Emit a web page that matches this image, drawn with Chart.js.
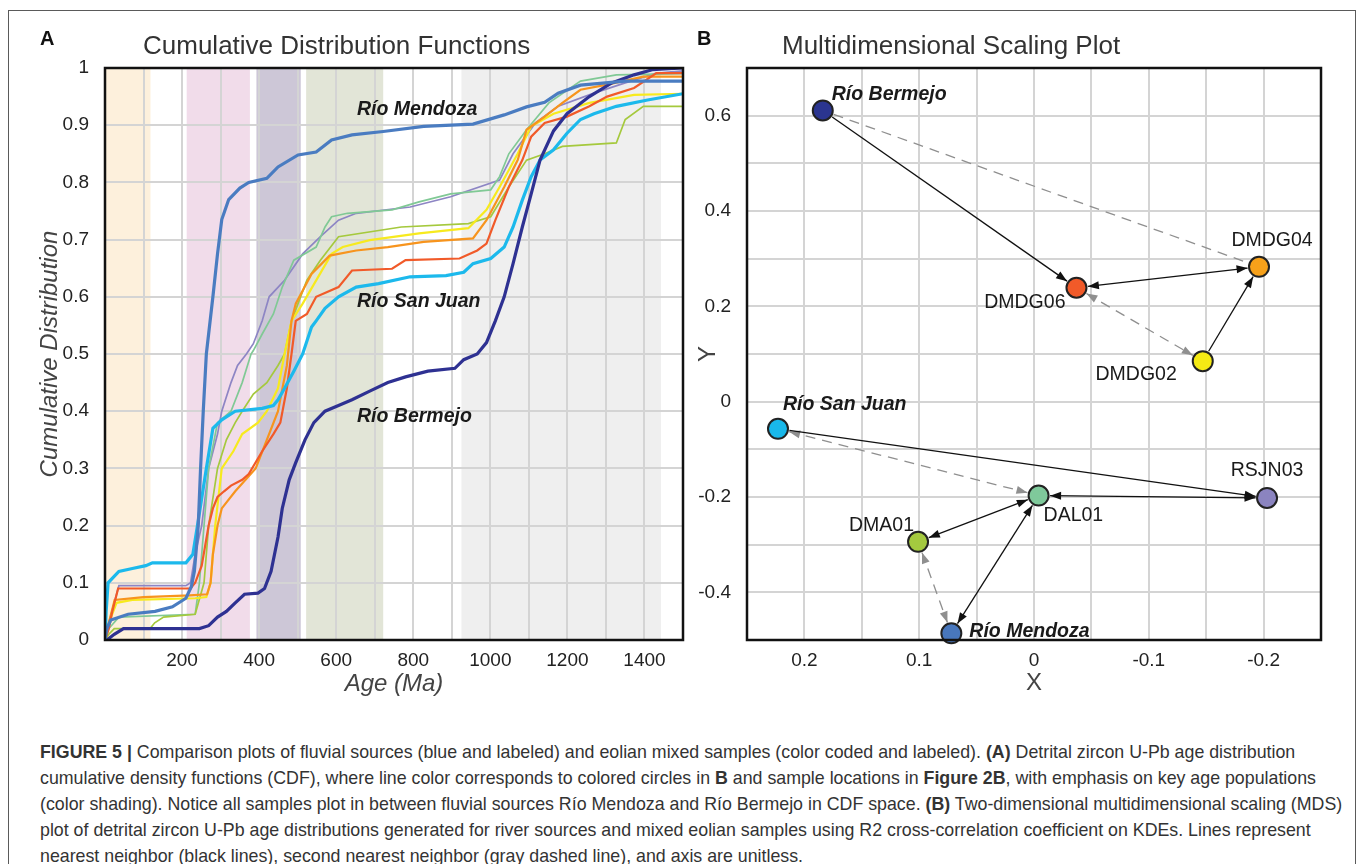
<!DOCTYPE html>
<html>
<head>
<meta charset="utf-8">
<script src="https://cdn.jsdelivr.net/npm/chart.js@4.4.0/dist/chart.umd.min.js"></script>
<style>
  body { margin: 0; background: #fff; font-family: "Liberation Sans", Arial, sans-serif; }
  #pagina { position: relative; width: 1358px; height: 864px; overflow: hidden; background: #fff; }
  .marco { position: absolute; left: 8px; top: 10px; width: 1346px; height: 900px; border: 1px solid #5a5a5a; }
  .letra { position: absolute; font-weight: bold; font-size: 20px; color: #111; }
  .titulo { position: absolute; font-size: 26px; color: #333; white-space: nowrap; line-height: 26px; }
  .lienzo { position: absolute; top: 0; }
  #leyenda { position: absolute; left: 40px; top: 739px; color: #333; }
  #leyenda div { white-space: nowrap; line-height: 26px; height: 26px; font-size: 17px; }
</style>
</head>
<body>
<div id="pagina">
  <div class="marco"></div>
  <div class="lienzo" style="left:0"><canvas id="graficoCdf" width="700" height="700"></canvas></div>
  <div class="lienzo" style="left:680px"><canvas id="graficoMds" width="678" height="700"></canvas></div>
  <div class="letra" style="left:40px; top:27px">A</div>
  <div class="titulo" style="left:143px; top:32px">Cumulative Distribution Functions</div>
  <div class="letra" style="left:697px; top:27px">B</div>
  <div class="titulo" style="left:782px; top:32px">Multidimensional Scaling Plot</div>
  <div id="leyenda">
    <div><b>FIGURE 5 |</b> Comparison plots of fluvial sources (blue and labeled) and eolian mixed samples (color coded and labeled). <b>(A)</b> Detrital zircon U-Pb age distribution</div>
    <div>cumulative density functions (CDF), where line color corresponds to colored circles in <b>B</b> and sample locations in <b>Figure 2B</b>, with emphasis on key age populations</div>
    <div>(color shading). Notice all samples plot in between fluvial sources Río Mendoza and Río Bermejo in CDF space. <b>(B)</b> Two-dimensional multidimensional scaling (MDS)</div>
    <div>plot of detrital zircon U-Pb age distributions generated for river sources and mixed eolian samples using R2 cross-correlation coefficient on KDEs. Lines represent</div>
    <div>nearest neighbor (black lines), second nearest neighbor (gray dashed line), and axis are unitless.</div>
  </div>
</div>
<script>
// ===== Datos panel A: funciones de distribución acumulada (edad en Ma) =====
const edadesMendoza = [0, 5, 15, 60, 130, 175, 210, 224, 232, 242, 248, 255, 263, 280, 292, 303, 321, 350, 373, 420, 449, 501, 548, 588, 641, 722, 827, 955, 1036, 1094, 1141, 1176, 1234, 1350, 1500];
const cdfMendoza = [0, 0.02, 0.035, 0.045, 0.05, 0.058, 0.073, 0.093, 0.12, 0.2, 0.3, 0.4, 0.5, 0.6, 0.675, 0.735, 0.77, 0.79, 0.8, 0.807, 0.827, 0.848, 0.853, 0.874, 0.883, 0.889, 0.898, 0.902, 0.918, 0.932, 0.94, 0.956, 0.97, 0.977, 0.977];

const edadesSanJuan = [0, 3, 8, 36, 71, 106, 123, 210, 228, 240, 263, 280, 303, 338, 408, 437, 449, 466, 490, 513, 536, 548, 571, 606, 652, 710, 792, 885, 931, 955, 1001, 1036, 1059, 1083, 1106, 1129, 1164, 1199, 1234, 1269, 1327, 1408, 1500];
const cdfSanJuan = [0, 0.05, 0.1, 0.12, 0.125, 0.13, 0.135, 0.135, 0.15, 0.2, 0.3, 0.37, 0.385, 0.4, 0.405, 0.41, 0.42, 0.44, 0.47, 0.5, 0.547, 0.558, 0.58, 0.6, 0.617, 0.623, 0.635, 0.637, 0.643, 0.658, 0.667, 0.687, 0.722, 0.769, 0.81, 0.839, 0.857, 0.886, 0.91, 0.92, 0.933, 0.944, 0.955];

const edadesBermejo = [0, 5, 24, 48, 245, 269, 292, 315, 338, 362, 397, 414, 431, 449, 460, 478, 495, 519, 542, 571, 606, 641, 687, 734, 780, 838, 908, 931, 966, 990, 1013, 1036, 1059, 1083, 1106, 1129, 1164, 1199, 1257, 1315, 1373, 1420, 1500];
const cdfBermejo = [0, 0, 0.01, 0.02, 0.02, 0.025, 0.04, 0.05, 0.065, 0.08, 0.082, 0.09, 0.12, 0.18, 0.23, 0.28, 0.31, 0.35, 0.38, 0.4, 0.41, 0.42, 0.435, 0.45, 0.46, 0.47, 0.475, 0.49, 0.5, 0.52, 0.558, 0.6, 0.658, 0.722, 0.78, 0.839, 0.89, 0.92, 0.95, 0.974, 0.988, 0.997, 1.0];

const edadesDMDG06 = [0, 10, 19, 34, 222, 234, 251, 269, 280, 292, 309, 327, 356, 373, 408, 437, 455, 472, 484, 495, 524, 548, 606, 641, 745, 780, 920, 966, 990, 1013, 1048, 1083, 1106, 1141, 1199, 1257, 1303, 1373, 1431, 1500];
const cdfDMDG06 = [0, 0.02, 0.05, 0.09, 0.09, 0.1, 0.13, 0.2, 0.23, 0.25, 0.26, 0.27, 0.28, 0.29, 0.33, 0.36, 0.38, 0.44, 0.5, 0.558, 0.57, 0.6, 0.617, 0.646, 0.649, 0.664, 0.667, 0.681, 0.693, 0.734, 0.792, 0.839, 0.88, 0.904, 0.915, 0.933, 0.95, 0.965, 0.991, 0.991];

const edadesDMDG04 = [0, 10, 25, 100, 220, 265, 274, 280, 292, 303, 338, 391, 420, 449, 472, 484, 495, 536, 583, 652, 734, 827, 955, 990, 1036, 1071, 1094, 1141, 1187, 1234, 1303, 1397, 1500];
const cdfDMDG04 = [0, 0.03, 0.07, 0.075, 0.078, 0.08, 0.1, 0.15, 0.2, 0.23, 0.26, 0.3, 0.35, 0.4, 0.48, 0.558, 0.588, 0.64, 0.672, 0.681, 0.687, 0.696, 0.702, 0.734, 0.792, 0.839, 0.892, 0.915, 0.939, 0.962, 0.971, 0.985, 0.985];

const edadesDMDG02 = [0, 10, 30, 71, 234, 263, 274, 286, 303, 333, 356, 397, 420, 449, 466, 484, 513, 588, 617, 687, 815, 943, 990, 1024, 1071, 1106, 1164, 1257, 1373, 1500];
const cdfDMDG02 = [0, 0.03, 0.065, 0.07, 0.073, 0.075, 0.1, 0.2, 0.3, 0.33, 0.36, 0.38, 0.4, 0.44, 0.5, 0.558, 0.588, 0.675, 0.687, 0.699, 0.711, 0.72, 0.752, 0.792, 0.85, 0.898, 0.92, 0.939, 0.953, 0.955];

const edadesDAL01 = [0, 10, 36, 234, 245, 257, 269, 292, 327, 356, 379, 385, 408, 437, 460, 490, 548, 571, 588, 629, 745, 815, 897, 1001, 1024, 1048, 1094, 1152, 1234, 1327, 1500];
const cdfDAL01 = [0, 0.02, 0.04, 0.045, 0.1, 0.2, 0.3, 0.38, 0.4, 0.45, 0.5, 0.506, 0.535, 0.57, 0.617, 0.664, 0.687, 0.722, 0.74, 0.746, 0.752, 0.766, 0.78, 0.787, 0.81, 0.85, 0.892, 0.939, 0.977, 0.988, 0.99];

const edadesRSJN03 = [0, 10, 36, 210, 222, 234, 251, 269, 292, 303, 327, 344, 367, 385, 408, 426, 466, 513, 559, 606, 652, 792, 897, 1024, 1059, 1117, 1176, 1269, 1350, 1431, 1500];
const cdfRSJN03 = [0, 0.03, 0.095, 0.095, 0.1, 0.15, 0.2, 0.3, 0.36, 0.4, 0.45, 0.48, 0.5, 0.518, 0.558, 0.6, 0.629, 0.675, 0.705, 0.734, 0.746, 0.757, 0.775, 0.804, 0.85, 0.904, 0.933, 0.956, 0.974, 0.991, 0.995];

const edadesDMA01 = [0, 10, 24, 117, 129, 152, 234, 257, 269, 292, 315, 338, 356, 385, 420, 449, 466, 484, 524, 559, 606, 769, 943, 1001, 1048, 1094, 1141, 1187, 1327, 1350, 1397, 1500];
const cdfDMA01 = [0, 0.01, 0.02, 0.02, 0.03, 0.04, 0.045, 0.1, 0.2, 0.3, 0.35, 0.38, 0.4, 0.43, 0.45, 0.48, 0.5, 0.558, 0.629, 0.664, 0.705, 0.722, 0.728, 0.74, 0.792, 0.839, 0.85, 0.863, 0.869, 0.91, 0.933, 0.933];

// Poblaciones de edad sombreadas (Ma)
const bandaInicio = [0, 212, 393, 522, 925];
const bandaFin = [118, 376, 508, 722, 1443];

// ===== Datos panel B: escalamiento multidimensional =====
const muestras = ['Río Bermejo', 'DMDG06', 'DMDG04', 'DMDG02', 'Río San Juan', 'RSJN03', 'DAL01', 'DMA01', 'Río Mendoza'];
const mdsX = [0.184, -0.037, -0.196, -0.147, 0.223, -0.203, -0.004, 0.101, 0.072];
const mdsY = [0.611, 0.239, 0.283, 0.085, -0.057, -0.202, -0.197, -0.294, -0.486];

// Vecino más cercano [desde, hasta, flecha en inicio, flecha en fin]
const vecinoCercano = [
    ['Río Bermejo', 'DMDG06', false, true],
    ['DMDG06', 'DMDG04', true, true],
    ['DMDG02', 'DMDG04', false, true],
    ['Río San Juan', 'RSJN03', false, true],
    ['DAL01', 'RSJN03', true, true],
    ['DAL01', 'DMA01', true, true],
    ['DAL01', 'Río Mendoza', true, true]
];
// Segundo vecino más cercano
const segundoVecino = [
    ['Río Bermejo', 'DMDG04', false, false],
    ['DMDG06', 'DMDG02', true, true],
    ['Río San Juan', 'DAL01', true, true],
    ['DMA01', 'Río Mendoza', true, true]
];

// ===== Estilos =====
const FUENTE = '"Liberation Sans", Arial, sans-serif';
const bandaColor = ['#fdf0dc', '#f1dcea', '#cdc7d7', '#e2e5d7', '#efefef'];
const coloresMuestras = ['#2b3590', '#f15a29', '#f7a11a', '#f5ea14', '#19b8ea', '#8b84c0', '#7fc99b', '#a4c93f', '#4877bd'];

const seriesCdf = [
    { nombre: 'Río Mendoza', edades: edadesMendoza, valores: cdfMendoza, color: '#4a7cc1', grosor: 3.2 },
    { nombre: 'Río Bermejo', edades: edadesBermejo, valores: cdfBermejo, color: '#2e3192', grosor: 3.2 },
    { nombre: 'Río San Juan', edades: edadesSanJuan, valores: cdfSanJuan, color: '#1cb9ec', grosor: 3.2 },
    { nombre: 'DMDG06', edades: edadesDMDG06, valores: cdfDMDG06, color: '#f15a29', grosor: 2.2 },
    { nombre: 'DMDG04', edades: edadesDMDG04, valores: cdfDMDG04, color: '#f7941d', grosor: 2.2 },
    { nombre: 'DMDG02', edades: edadesDMDG02, valores: cdfDMDG02, color: '#f7ea1e', grosor: 2.2 },
    { nombre: 'DMA01', edades: edadesDMA01, valores: cdfDMA01, color: '#a5c93d', grosor: 1.7 },
    { nombre: 'DAL01', edades: edadesDAL01, valores: cdfDAL01, color: '#80c995', grosor: 1.7 },
    { nombre: 'RSJN03', edades: edadesRSJN03, valores: cdfRSJN03, color: '#8d85c4', grosor: 1.7 }
];

// Rótulos del panel A (anclados en coordenadas de datos)
const rotulosA = [
    { texto: 'Río Mendoza', edad: 654, cdf: 0.927 },
    { texto: 'Río San Juan', edad: 654, cdf: 0.591 },
    { texto: 'Río Bermejo', edad: 654, cdf: 0.39 }
];

// Rótulos del panel B (desplazamiento en píxeles respecto del punto)
const rotulosB = {
    'Río Bermejo': { dx: 9, dy: -16, alinear: 'left' },
    'DMDG04': { dx: 13, dy: -26, alinear: 'center' },
    'DMDG06': { dx: -11, dy: 15, alinear: 'right' },
    'DMDG02': { dx: -26, dy: 13, alinear: 'right' },
    'Río San Juan': { dx: 5, dy: -24, alinear: 'left' },
    'RSJN03': { dx: 0, dy: -27, alinear: 'center' },
    'DAL01': { dx: 5, dy: 20, alinear: 'left' },
    'DMA01': { dx: -4, dy: -16, alinear: 'right' },
    'Río Mendoza': { dx: 18, dy: -2, alinear: 'left' }
};

// Marco negro del área de trazado
const pluginMarco = {
    id: 'marco',
    afterDatasetsDraw(chart) {
        const { ctx, chartArea } = chart;
        ctx.save();
        ctx.strokeStyle = '#111';
        ctx.lineWidth = 2.5;
        ctx.strokeRect(chartArea.left, chartArea.top, chartArea.right - chartArea.left, chartArea.bottom - chartArea.top);
        ctx.restore();
    }
};

// Bandas de color detrás de la grilla
const pluginBandas = {
    id: 'bandas',
    beforeDraw(chart) {
        const { ctx, chartArea, scales } = chart;
        ctx.save();
        bandaInicio.forEach((ini, i) => {
            const x1 = scales.x.getPixelForValue(ini);
            const x2 = scales.x.getPixelForValue(bandaFin[i]);
            ctx.fillStyle = bandaColor[i];
            ctx.fillRect(x1, chartArea.top, x2 - x1, chartArea.bottom - chartArea.top);
        });
        ctx.restore();
    }
};

// Rótulos de los ríos en el panel A
const pluginRotulosA = {
    id: 'rotulosA',
    afterDatasetsDraw(chart) {
        const { ctx, scales } = chart;
        ctx.save();
        ctx.font = 'italic bold 19.5px ' + FUENTE;
        ctx.fillStyle = '#1a1a1a';
        ctx.textAlign = 'left';
        ctx.textBaseline = 'middle';
        rotulosA.forEach(r => {
            ctx.fillText(r.texto, scales.x.getPixelForValue(r.edad), scales.y.getPixelForValue(r.cdf));
        });
        ctx.restore();
    }
};

function dibujarPunta(ctx, x1, y1, x2, y2) {
    const ang = Math.atan2(y2 - y1, x2 - x1);
    const largo = 11, ancho = 4;
    ctx.beginPath();
    ctx.moveTo(x2, y2);
    ctx.lineTo(x2 - largo * Math.cos(ang) + ancho * Math.sin(ang), y2 - largo * Math.sin(ang) - ancho * Math.cos(ang));
    ctx.lineTo(x2 - largo * Math.cos(ang) - ancho * Math.sin(ang), y2 - largo * Math.sin(ang) + ancho * Math.cos(ang));
    ctx.closePath();
    ctx.fill();
}

function dibujarEnlaces(chart, enlaces, color, guiones) {
    const { ctx } = chart;
    const puntos = chart.getDatasetMeta(0).data;
    const radio = 11.5;
    ctx.save();
    ctx.strokeStyle = color;
    ctx.fillStyle = color;
    ctx.lineWidth = 1.3;
    enlaces.forEach(([desde, hasta, flechaIni, flechaFin]) => {
        const a = puntos[muestras.indexOf(desde)];
        const b = puntos[muestras.indexOf(hasta)];
        const d = Math.hypot(b.x - a.x, b.y - a.y);
        const ux = (b.x - a.x) / d, uy = (b.y - a.y) / d;
        const ax = a.x + ux * radio, ay = a.y + uy * radio;
        const bx = b.x - ux * radio, by = b.y - uy * radio;
        ctx.setLineDash(guiones);
        ctx.beginPath();
        ctx.moveTo(ax, ay);
        ctx.lineTo(bx, by);
        ctx.stroke();
        ctx.setLineDash([]);
        if (flechaFin) dibujarPunta(ctx, ax, ay, bx, by);
        if (flechaIni) dibujarPunta(ctx, bx, by, ax, ay);
    });
    ctx.restore();
}

const pluginEnlaces = {
    id: 'enlaces',
    beforeDatasetsDraw(chart) {
        dibujarEnlaces(chart, segundoVecino, '#8f8f8f', [10, 7]);
        dibujarEnlaces(chart, vecinoCercano, '#111', []);
    }
};

const pluginRotulosB = {
    id: 'rotulosB',
    afterDatasetsDraw(chart) {
        const { ctx } = chart;
        const puntos = chart.getDatasetMeta(0).data;
        ctx.save();
        ctx.fillStyle = '#1a1a1a';
        ctx.textBaseline = 'middle';
        muestras.forEach((nombre, i) => {
            const r = rotulosB[nombre];
            ctx.font = (nombre.startsWith('Río') ? 'italic bold ' : '') + '19.5px ' + FUENTE;
            ctx.textAlign = r.alinear;
            ctx.fillText(nombre, puntos[i].x + r.dx, puntos[i].y + r.dy);
        });
        ctx.restore();
    }
};

const colorGrilla = '#d4d4d4';
const fuenteTicks = { family: FUENTE, size: 19 };

// Gráfico A: funciones de distribución acumulada
new Chart(document.getElementById('graficoCdf').getContext('2d'), {
    type: 'line',
    data: {
        datasets: seriesCdf.map(s => ({
            label: s.nombre,
            data: s.edades.map((e, i) => ({ x: e, y: s.valores[i] })),
            borderColor: s.color,
            borderWidth: s.grosor,
            pointRadius: 0,
            tension: 0,
            fill: false
        }))
    },
    options: {
        responsive: false,
        animation: false,
        layout: { padding: { top: 68, right: 17, left: 0, bottom: 0 } },
        plugins: { legend: { display: false }, tooltip: { enabled: false } },
        scales: {
            x: {
                type: 'linear', min: 0, max: 1500,
                afterFit(scale) { scale.height = 60; },
                grid: { color: colorGrilla, lineWidth: 2, drawTicks: false },
                border: { display: false },
                ticks: {
                    stepSize: 100, autoSkip: false, maxRotation: 0, padding: 9,
                    color: '#222', font: fuenteTicks,
                    callback: v => (v > 0 && v < 1500 && v % 200 === 0) ? String(v) : ''
                },
                title: { display: true, text: 'Age (Ma)', color: '#444', font: { family: FUENTE, size: 24, style: 'italic' }, padding: { top: 0, bottom: 1 } }
            },
            y: {
                type: 'linear', min: 0, max: 1,
                afterFit(scale) { scale.width = 105; },
                grid: { color: colorGrilla, lineWidth: 2, drawTicks: false },
                border: { display: false },
                ticks: {
                    stepSize: 0.1, autoSkip: false, padding: 16,
                    color: '#222', font: fuenteTicks,
                    callback: v => {
                        const r = Math.round(v * 10) / 10;
                        return r === 0 ? '0' : r === 1 ? '1' : r.toFixed(1);
                    }
                },
                title: { display: true, text: 'Cumulative Distribution', color: '#444', font: { family: FUENTE, size: 24, style: 'italic' }, padding: { top: 36, bottom: 0 } }
            }
        }
    },
    plugins: [pluginBandas, pluginRotulosA, pluginMarco]
});

// Gráfico B: escalamiento multidimensional
new Chart(document.getElementById('graficoMds').getContext('2d'), {
    type: 'scatter',
    data: {
        datasets: [{
            label: 'MDS',
            data: mdsX.map((x, i) => ({ x: x, y: mdsY[i] })),
            pointRadius: 10,
            pointBackgroundColor: coloresMuestras,
            pointBorderColor: '#222',
            pointBorderWidth: 2,
            clip: false
        }]
    },
    options: {
        responsive: false,
        animation: false,
        layout: { padding: { top: 68, right: 37, left: 0, bottom: 0 } },
        plugins: { legend: { display: false }, tooltip: { enabled: false } },
        scales: {
            x: {
                type: 'linear', min: -0.25, max: 0.25, reverse: true,
                afterFit(scale) { scale.height = 60; },
                grid: { color: colorGrilla, lineWidth: 2, drawTicks: false },
                border: { display: false },
                ticks: {
                    stepSize: 0.05, autoSkip: false, maxRotation: 0, padding: 9,
                    color: '#222', font: fuenteTicks,
                    callback: v => {
                        const k = Math.round(v * 20);
                        return k % 2 === 0 ? (k === 0 ? '0' : (k / 20).toFixed(1)) : '';
                    }
                },
                title: { display: true, text: 'X', color: '#444', font: { family: FUENTE, size: 24 }, padding: { top: 0, bottom: 2 } }
            },
            y: {
                type: 'linear', min: -0.5, max: 0.7,
                afterFit(scale) { scale.width = 67; },
                grid: { color: colorGrilla, lineWidth: 2, drawTicks: false },
                border: { display: false },
                ticks: {
                    stepSize: 0.1, autoSkip: false, padding: 16,
                    color: '#222', font: fuenteTicks,
                    callback: v => {
                        const k = Math.round(v * 10);
                        return k % 2 === 0 ? (k === 0 ? '0' : (k / 10).toFixed(1)) : '';
                    }
                },
                title: { display: true, text: 'Y', color: '#444', font: { family: FUENTE, size: 24 }, padding: { top: 14, bottom: 0 } }
            }
        }
    },
    plugins: [pluginEnlaces, pluginRotulosB, pluginMarco]
});

// Ajustar el tamaño de la leyenda para que la primera línea ocupe el mismo ancho que en la figura
function ajustarLeyenda() {
    const lineas = document.querySelectorAll('#leyenda div');
    const primera = lineas[0];
    primera.style.display = 'inline-block';
    const ancho = primera.getBoundingClientRect().width;
    primera.style.display = '';
    const tam = 17 * 1256 / ancho;
    lineas.forEach(l => { l.style.fontSize = tam.toFixed(2) + 'px'; });
}
ajustarLeyenda();
</script>
</body>
</html>
